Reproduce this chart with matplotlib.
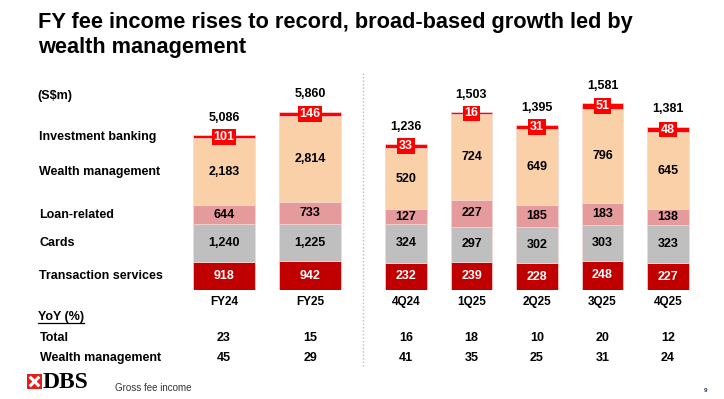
import numpy as np
import matplotlib.pyplot as plt
from matplotlib import transforms
from matplotlib.patches import Rectangle
from matplotlib.lines import Line2D

plt.rcParams['font.family'] = ['Liberation Sans', 'DejaVu Sans']

# ---- data ----
segments = ["Transaction services", "Cards", "Loan-related",
            "Wealth management", "Investment banking"]

fy_periods = ["FY24", "FY25"]
fy_transaction = [918, 942]
fy_cards = [1240, 1225]
fy_loan = [644, 733]
fy_wealth = [2183, 2814]
fy_ib = [101, 146]
fy_total = [5086, 5860]

q_periods = ["4Q24", "1Q25", "2Q25", "3Q25", "4Q25"]
q_transaction = [232, 239, 228, 248, 227]
q_cards = [324, 297, 302, 303, 323]
q_loan = [127, 227, 185, 183, 138]
q_wealth = [520, 724, 649, 796, 645]
q_ib = [33, 16, 31, 51, 48]
q_total = [1236, 1503, 1395, 1581, 1381]

yoy_total = [23, 15, 16, 18, 10, 20, 12]
yoy_wealth = [45, 29, 41, 35, 25, 31, 24]

# ---- style ----
colors = ["#C00000", "#BFBFBF", "#E59A9C", "#F9D0A8", "#FF0000"]
text_colors = ["white", "black", "black", "black", "white"]

W, H = 724, 399
BASE, TOP = 290, 60   # pixel rows of bar baseline and axes top

fig = plt.figure(figsize=(W / 100, H / 100), dpi=100)


def bar_axes(left, right, first_center, step, px_per_unit):
	ax = fig.add_axes([left / W, 1 - BASE / H, (right - left) / W, (BASE - TOP) / H])
	ax.set_xlim((left - first_center) / step, (right - first_center) / step)
	ax.set_ylim(0, (BASE - TOP) / px_per_unit)
	ax.axis('off')
	return ax


def draw_stack(ax, stacks, totals, width):
	x = np.arange(len(totals))
	bottom = np.zeros(len(totals))
	for k, vals in enumerate(stacks):
		vals = np.array(vals, dtype=float)
		ax.bar(x, vals, width, bottom=bottom, color=colors[k],
			   edgecolor="#F6D6D6", linewidth=0.5)
		for i, v in enumerate(vals):
			yc = bottom[i] + v / 2
			if k == 4:
				ax.text(x[i], yc, f"{int(v)}", ha='center', va='center', color='white',
						fontsize=9, fontweight='bold',
						bbox=dict(boxstyle='square,pad=0.14', fc=colors[4], ec='none'))
			else:
				ax.text(x[i], yc, f"{int(v):,}", ha='center', va='center',
						color=text_colors[k], fontsize=9, fontweight='bold')
		bottom += vals
	for i, t in enumerate(totals):
		ax.annotate(f"{t:,}", (x[i], t), xytext=(0, 12.5), textcoords='offset points',
					ha='center', va='center', fontsize=9, fontweight='bold')
	return x


ax_fy = bar_axes(185, 350, 224, 86, 0.0304)
ax_q = bar_axes(375, 700, 406, 65.5, 0.1182)

fy_x = draw_stack(ax_fy, [fy_transaction, fy_cards, fy_loan, fy_wealth, fy_ib], fy_total, 0.72)
q_x = draw_stack(ax_q, [q_transaction, q_cards, q_loan, q_wealth, q_ib], q_total, 0.626)

# column labels and YoY table
rows_y = {"label": 302, "total": 338, "wealth": 358}
cols = [(ax_fy, fy_x, fy_periods), (ax_q, q_x, q_periods)]
n = 0
for ax, xs, labels in cols:
	tr = transforms.blended_transform_factory(ax.transData, fig.transFigure)
	for i, lab in enumerate(labels):
		ax.text(xs[i], 1 - rows_y["label"] / H, lab, transform=tr, ha='center', va='center',
				fontsize=8.5, fontweight='bold')
		ax.text(xs[i], 1 - rows_y["total"] / H, str(yoy_total[n]), transform=tr,
				ha='center', va='center', fontsize=9, fontweight='bold')
		ax.text(xs[i], 1 - rows_y["wealth"] / H, str(yoy_wealth[n]), transform=tr,
				ha='center', va='center', fontsize=9, fontweight='bold')
		n += 1

# segment names on the left, aligned with FY24 segments
leg_tr = transforms.blended_transform_factory(fig.transFigure, ax_fy.transData)
cum = 0
for k, vals in enumerate([fy_transaction, fy_cards, fy_loan, fy_wealth, fy_ib]):
	yc = cum + vals[0] / 2
	fig.text(39 / W, yc, segments[k], transform=leg_tr, ha='left', va='center',
			 fontsize=9, fontweight='bold')
	cum += vals[0]

fig.text(37 / W, 1 - 96 / H, "(S$m)", ha='left', va='center', fontsize=9, fontweight='bold')

# title
fig.text(38 / W, 1 - 12 / H, "FY fee income rises to record, broad-based growth led by\nwealth management",
		 ha='left', va='top', fontsize=15.7, fontweight='bold', linespacing=1.22)

# YoY header with underline
yoy = fig.text(38 / W, 1 - 317 / H, "YoY (%)", ha='left', va='center', fontsize=9, fontweight='bold')
fig.text(40 / W, 1 - rows_y["total"] / H, "Total", ha='left', va='center', fontsize=9, fontweight='bold')
fig.text(40 / W, 1 - rows_y["wealth"] / H, "Wealth management", ha='left', va='center',
		 fontsize=9, fontweight='bold')
fig.canvas.draw()
bb = yoy.get_window_extent().transformed(fig.transFigure.inverted())
fig.add_artist(Line2D([bb.x0, bb.x1], [1 - 323 / H] * 2, color='black', lw=0.9,
					  transform=fig.transFigure))

# dotted separator
fig.add_artist(Line2D([363 / W, 363 / W], [1 - 73 / H, 1 - 368 / H], color='#BBBBBB',
					  lw=1, ls=(0, (1, 1.5)), transform=fig.transFigure))

# footer: logo, source, page number
logo = fig.add_axes([27 / W, 1 - 389 / H, 15 / W, 15 / H])
logo.set_xlim(0, 1)
logo.set_ylim(0, 1)
logo.axis('off')
logo.add_patch(Rectangle((0, 0), 1, 1, color='#E0201B'))
logo.plot([0.18, 0.82], [0.18, 0.82], color='white', lw=2.2, solid_capstyle='butt')
logo.plot([0.18, 0.82], [0.82, 0.18], color='white', lw=2.2, solid_capstyle='butt')
logo.add_patch(Rectangle((0.4, 0.4), 0.2, 0.2, color='#E0201B'))

fig.text(43 / W, 1 - 382 / H, "DBS", ha='left', va='center', fontsize=17,
		 family=['Liberation Serif', 'DejaVu Serif'], fontweight='bold', color='black')
fig.text(115 / W, 1 - 388 / H, "Gross fee income", ha='left', va='center', fontsize=7, color='#333333')
fig.text(706 / W, 1 - 391 / H, "9", ha='center', va='center', fontsize=4.5, color='#1F3864',
		 fontweight='bold')

fig.savefig("out.png", dpi=100)
